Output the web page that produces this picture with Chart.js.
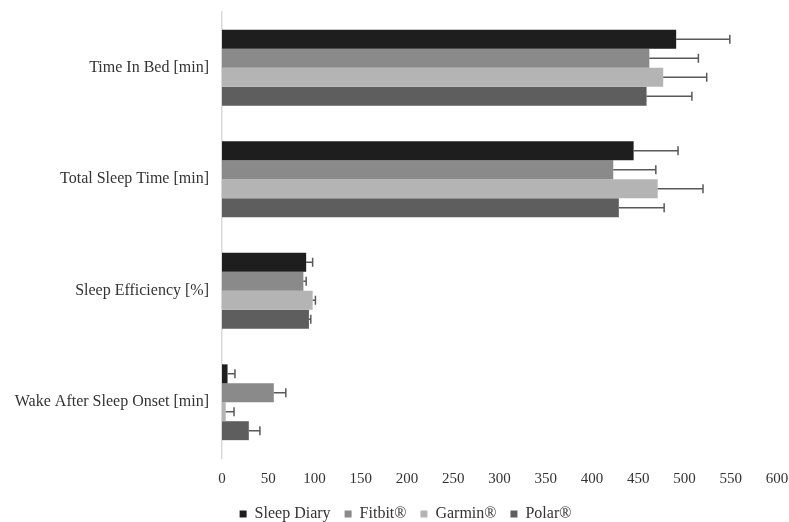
<!DOCTYPE html>
<html>
<head>
<meta charset="utf-8">
<script src="https://cdn.jsdelivr.net/npm/chart.js@4.4.0/dist/chart.umd.min.js"></script>
<style>
  html, body { margin: 0; padding: 0; background: #fff; }
  #wrap { width: 789px; height: 522px; }
</style>
</head>
<body>
<div id="wrap"><canvas id="sleepChart" width="789" height="522"></canvas></div>
<script>
// categories and series
var categories = ["Time In Bed [min]", "Total Sleep Time [min]", "Sleep Efficiency [%]", "Wake After Sleep Onset [min]"];
var seriesNames = ["Sleep Diary", "Fitbit\u00ae", "Garmin\u00ae", "Polar\u00ae"];

var sleepDiary = [491, 445, 91, 6];
var fitbit     = [462, 423, 88, 56];
var garmin     = [477, 471, 98, 4];
var polar      = [459, 429, 94, 29];

// standard deviation (positive side only)
var sleepDiaryErr = [58, 48, 7, 8];
var fitbitErr     = [53, 46, 3, 13];
var garminErr     = [47, 49, 3, 9];
var polarErr      = [49, 49, 2, 12];

var xTicks = [0, 50, 100, 150, 200, 250, 300, 350, 400, 450, 500, 550, 600];

var colors = ["#1e1e1e", "#8a8a8a", "#b4b4b4", "#5e5e5e"];
var values = [sleepDiary, fitbit, garmin, polar];
var errors = [sleepDiaryErr, fitbitErr, garminErr, polarErr];

var datasets = seriesNames.map(function (name, i) {
    return {
        label: name,
        data: values[i],
        errors: errors[i],
        backgroundColor: colors[i],
        borderWidth: 0,
        categoryPercentage: 0.68,
        barPercentage: 1.0
    };
});

// simple error bar drawing (Chart.js has no built-in error bars)
var errorBars = {
    id: "errorBars",
    afterDatasetsDraw: function (chart) {
        var ctx = chart.ctx;
        var xScale = chart.scales.x;
        ctx.save();
        ctx.strokeStyle = "#595959";
        ctx.lineWidth = 1.5;
        chart.data.datasets.forEach(function (ds, di) {
            var meta = chart.getDatasetMeta(di);
            meta.data.forEach(function (bar, j) {
                var x0 = xScale.getPixelForValue(ds.data[j]);
                var x1 = xScale.getPixelForValue(ds.data[j] + ds.errors[j]);
                var y = bar.y;
                var cap = 4.5;
                ctx.beginPath();
                ctx.moveTo(x0, y);
                ctx.lineTo(x1, y);
                ctx.moveTo(x1, y - cap);
                ctx.lineTo(x1, y + cap);
                ctx.stroke();
            });
        });
        ctx.restore();
    }
};

// nudge the legend a little to the right, like the original figure
var legendShift = {
    id: "legendShift",
    afterLayout: function (chart) {
        if (chart.legend) {
            chart.legend.left += 34;
            chart.legend.right += 0;
        }
    }
};

var fontFamily = "'Liberation Serif', 'Times New Roman', serif";

new Chart(document.getElementById("sleepChart").getContext("2d"), {
    type: "bar",
    data: {
        labels: categories,
        datasets: datasets
    },
    options: {
        indexAxis: "y",
        responsive: false,
        animation: false,
        layout: {
            padding: { left: 0, right: 12, top: 12, bottom: -10 }
        },
        scales: {
            x: {
                min: 0,
                max: 600,
                afterBuildTicks: function (scale) {
                    scale.ticks = xTicks.map(function (v) { return { value: v }; });
                },
                afterFit: function (scale) {
                    scale.paddingLeft = 0;
                    scale.paddingRight = 0;
                    scale.height = scale.height - 8;
                },
                grid: { display: false, drawTicks: false },
                border: { display: false },
                ticks: {
                    color: "#333",
                    font: { family: fontFamily, size: 15 },
                    padding: 12,
                    maxRotation: 0
                }
            },
            y: {
                grid: { display: false, drawTicks: false },
                border: { display: true, color: "#d9d9d9", width: 1.5 },
                ticks: {
                    color: "#333",
                    font: { family: fontFamily, size: 16 },
                    padding: 13
                },
                afterFit: function (scale) {
                    scale.width = 222;
                    scale.paddingTop = 0;
                    scale.paddingBottom = 0;
                }
            }
        },
        plugins: {
            legend: {
                position: "bottom",
                labels: {
                    boxWidth: 7,
                    boxHeight: 7,
                    padding: 14,
                    color: "#333",
                    font: { family: fontFamily, size: 16 }
                }
            },
            tooltip: { enabled: false }
        }
    },
    plugins: [errorBars, legendShift]
});
</script>
</body>
</html>
